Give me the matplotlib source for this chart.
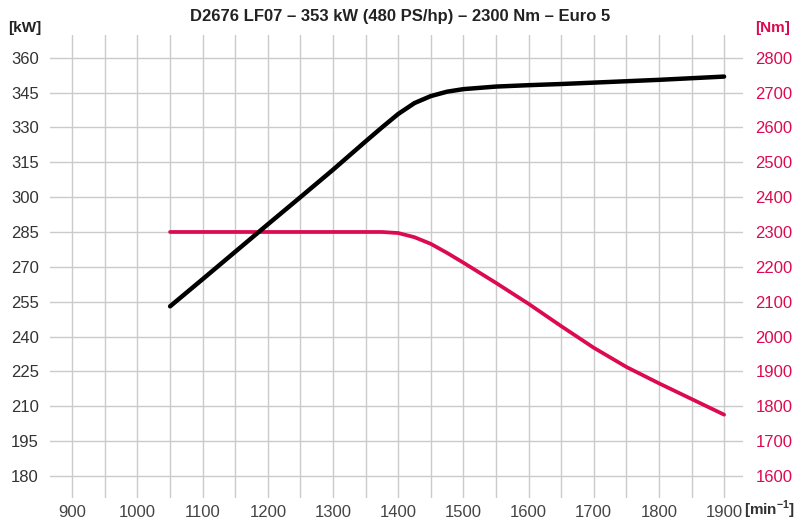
import matplotlib
matplotlib.use("Agg")
import matplotlib.pyplot as plt
from matplotlib.ticker import MultipleLocator

plt.rcParams['font.family'] = ['Liberation Sans', 'DejaVu Sans']
plt.rcParams['mathtext.fontset'] = 'custom'
plt.rcParams['mathtext.rm'] = 'Liberation Sans'
plt.rcParams['mathtext.bf'] = 'Liberation Sans:bold'

title = "D2676 LF07 \u2013 353 kW (480 PS/hp) \u2013 2300 Nm \u2013 Euro 5"

rpm_power = [1050, 1100, 1150, 1200, 1250, 1300, 1350, 1375, 1400, 1425, 1450, 1475,
             1500, 1550, 1600, 1650, 1700, 1750, 1800, 1850, 1900]
power_kw = [253.0, 264.7, 276.5, 288.3, 300.0, 311.8, 324.0, 330.0, 335.8, 340.5, 343.5, 345.4,
            346.5, 347.6, 348.2, 348.7, 349.3, 349.9, 350.5, 351.2, 351.9]

rpm_torque = [1050, 1100, 1200, 1300, 1350, 1375, 1400, 1425, 1450, 1475,
              1500, 1550, 1600, 1650, 1700, 1750, 1800, 1850, 1900]
torque_nm = [2300, 2300, 2300, 2300, 2300, 2300, 2297, 2285, 2266, 2240,
             2212, 2154, 2094, 2030, 1968, 1913, 1866, 1821, 1776]

x_ticks = list(range(900, 2000, 100))
kw_ticks = list(range(180, 375, 15))
nm_ticks = list(range(1600, 2900, 100))

W, H = 796, 525
fig = plt.figure(figsize=(W / 100, H / 100), dpi=100)
rect = [50 / W, 1 - 498 / H, (743 - 50) / W, (498 - 35) / H]
ax = fig.add_axes(rect)
ax2 = ax.twinx()
ax3 = fig.add_axes(rect, sharex=ax, sharey=ax)

grid_c = '#cbcbcb'
red = '#dc0a4e'
txt = '#333333'

ax.set_xlim(865.8, 1929)
ax.set_ylim(170.5, 369.8)
ax2.set_ylim(1537, 2865)

ax.set_xticks(x_ticks)
ax.xaxis.set_minor_locator(MultipleLocator(50))
ax.set_yticks(kw_ticks)
ax2.set_yticks(nm_ticks)

ax.grid(True, which='major', color=grid_c, linewidth=1.0)
ax.grid(True, which='minor', axis='x', color=grid_c, linewidth=1.0)
ax.set_axisbelow(True)

for a in (ax, ax2, ax3):
    for s in a.spines.values():
        s.set_visible(False)
    a.tick_params(axis='both', which='both', length=0)

ax.tick_params(axis='y', pad=8, labelsize=12, labelcolor=txt)
ax.tick_params(axis='x', pad=5, labelsize=12, labelcolor='#444444')
ax2.tick_params(axis='y', pad=9, labelsize=12, labelcolor=red)
ax3.tick_params(labelleft=False, labelbottom=False)
ax3.patch.set_visible(False)
ax2.patch.set_visible(False)

ax2.plot(rpm_torque, torque_nm, color=red, linewidth=2.7, solid_capstyle='round',
         solid_joinstyle='round')
ax3.plot(rpm_power, power_kw, color='black', linewidth=3.2, solid_capstyle='round',
         solid_joinstyle='round')

fig.text(400 / W, 1 - 17 / H, title, ha='center', va='center', fontsize=12,
         fontweight='bold', color='#222222')
fig.text(8 / W, 1 - 28 / H, "[kW]", ha='left', va='center', fontsize=11,
         fontweight='bold', color='#222222')
fig.text(790 / W, 1 - 28 / H, "[Nm]", ha='right', va='center', fontsize=11,
         fontweight='bold', color=red)
fig.text(744 / W, 1 - 510 / H, r"[min$^{\mathbf{-1}}$]", ha='left', va='center', fontsize=11,
         fontweight='bold', color='#333333')

fig.savefig("out.png", dpi=100)
